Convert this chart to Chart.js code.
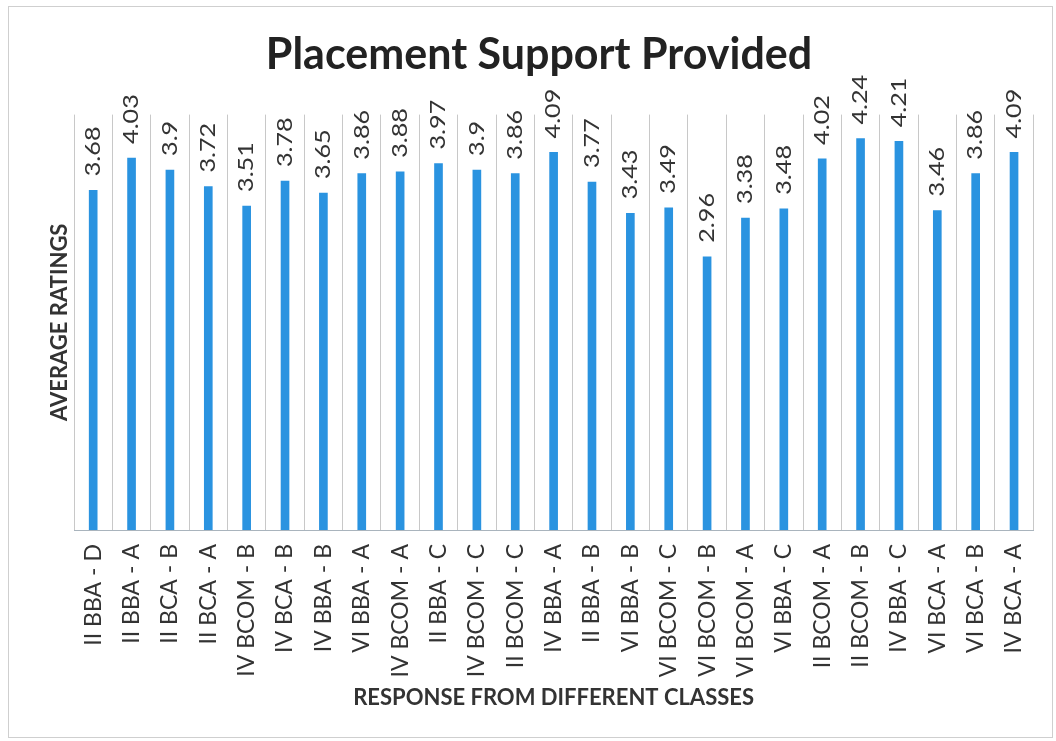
<!DOCTYPE html>
<html>
<head>
<meta charset="utf-8">
<script src="https://cdn.jsdelivr.net/npm/chart.js@4"></script>
<style>
  html, body { margin: 0; padding: 0; background: #fff; }
  #wrap { width: 1056px; height: 741px; }
</style>
</head>
<body>
<div id="wrap"><canvas id="chart" width="1056" height="741"></canvas></div>
<script>
// chart data
const classes = [
  'II BBA - D', 'II BBA - A', 'II BCA - B', 'II BCA - A', 'IV BCOM - B',
  'IV BCA - B', 'IV BBA - B', 'VI BBA - A', 'IV BCOM - A', 'II BBA - C',
  'IV BCOM - C', 'II BCOM - C', 'IV BBA - A', 'II BBA - B', 'VI BBA - B',
  'VI BCOM - C', 'VI BCOM - B', 'VI BCOM - A', 'VI BBA - C', 'II BCOM - A',
  'II BCOM - B', 'IV BBA - C', 'VI BCA - A', 'VI BCA - B', 'IV BCA - A'
];
const ratings = [
  3.68, 4.03, 3.9, 3.72, 3.51,
  3.78, 3.65, 3.86, 3.88, 3.97,
  3.9, 3.86, 4.09, 3.77, 3.43,
  3.49, 2.96, 3.38, 3.48, 4.02,
  4.24, 4.21, 3.46, 3.86, 4.09
];
const yMax = 4.5;

const FONT = 'Lato, "Open Sans", sans-serif';

// outer frame + white background
const framePlugin = {
  id: 'frame',
  beforeDraw(chart) {
    const { ctx, width, height } = chart;
    ctx.save();
    ctx.fillStyle = '#fff';
    ctx.fillRect(0, 0, width, height);
    ctx.strokeStyle = '#cfcfcf';
    ctx.lineWidth = 1;
    ctx.strokeRect(8.5, 6.5, 1044, 731);
    ctx.restore();
  }
};

// vertical value labels above the bars (scan is stretched along the text)
const valueLabels = {
  id: 'valueLabels',
  afterDatasetsDraw(chart) {
    const { ctx } = chart;
    const meta = chart.getDatasetMeta(0);
    ctx.save();
    ctx.font = '21px ' + FONT;
    ctx.fillStyle = '#333';
    ctx.textAlign = 'left';
    ctx.textBaseline = 'middle';
    meta.data.forEach((bar, i) => {
      ctx.save();
      ctx.translate(bar.x, bar.y - 14);
      ctx.rotate(-Math.PI / 2);
      ctx.scale(1.2, 1);
      ctx.fillText(String(ratings[i]), 0, 0);
      ctx.restore();
    });
    ctx.restore();
  }
};

new Chart(document.getElementById('chart').getContext('2d'), {
  type: 'bar',
  data: {
    labels: classes,
    datasets: [{
      label: 'Average Ratings',
      data: ratings,
      backgroundColor: '#2a93e0',
      barThickness: 8
    }]
  },
  options: {
    responsive: false,
    animation: false,
    layout: { padding: { left: 40, right: 18, top: 0, bottom: 0 } },
    plugins: {
      legend: { display: false },
      tooltip: { enabled: false },
      title: {
        display: true,
        text: 'Placement Support Provided',
        color: '#222',
        font: { family: FONT, size: 43, weight: 'bold', lineHeight: 1.2 },
        padding: { top: 29, bottom: 34 }
      }
    },
    scales: {
      x: {
        grid: { color: '#c8c8c8', drawTicks: false, offset: true },
        border: { color: '#a9b4bd' },
        ticks: {
          color: '#333',
          font: { family: FONT, size: 23 },
          maxRotation: 90,
          minRotation: 90,
          padding: 14,
          autoSkip: false
        },
        title: {
          display: true,
          text: 'RESPONSE FROM DIFFERENT CLASSES',
          color: '#333',
          font: { family: FONT, size: 22, weight: 'bold' },
          padding: { bottom: 30 }
        },
        afterFit(scale) { scale.height = 211; }
      },
      y: {
        min: 0,
        max: yMax,
        grid: { display: false },
        border: { display: false },
        ticks: { display: false },
        title: {
          display: true,
          text: 'AVERAGE RATINGS',
          color: '#333',
          font: { family: FONT, size: 22, weight: 'bold' },
          padding: { top: 7 }
        },
        afterFit(scale) { scale.width = 34; }
      }
    }
  },
  plugins: [framePlugin, valueLabels]
});
</script>
</body>
</html>
